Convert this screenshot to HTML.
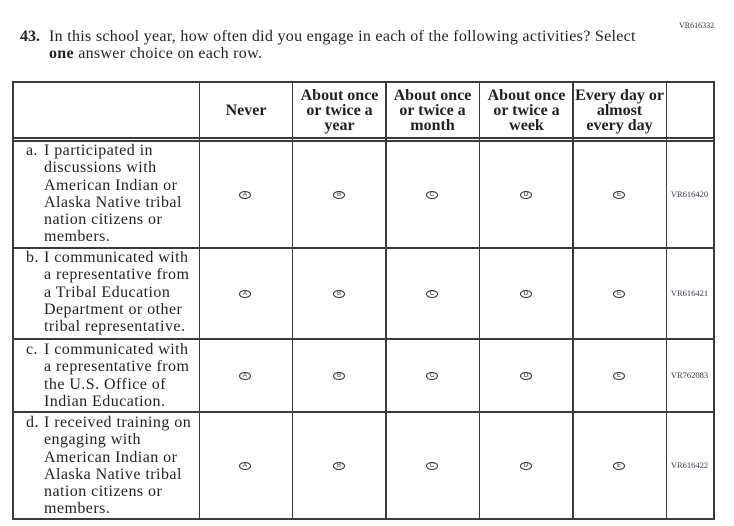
<!DOCTYPE html>
<html>
<head>
<meta charset="utf-8">
<style>
html,body{margin:0;padding:0;background:#fff;}
body{width:734px;height:526px;position:relative;overflow:hidden;font-family:"Liberation Serif",serif;color:#231f20;}
.a{position:absolute;white-space:nowrap;}
.t{font-size:16px;line-height:17px;letter-spacing:0.3px;}
.hl{position:absolute;background:#3b3b3b;}
.h{position:absolute;font-weight:bold;font-size:16px;line-height:15px;text-align:center;}
.row{position:absolute;font-size:16px;line-height:17.3px;white-space:nowrap;letter-spacing:0.45px;}
.vr{position:absolute;font-size:8.5px;color:#3a3a4a;text-align:center;width:47px;}
.b{position:absolute;width:10px;height:6px;border:1px solid #333;border-radius:50%;font-size:6px;line-height:6px;text-align:center;font-family:"Liberation Sans",sans-serif;color:#222;}
</style>
</head>
<body>
<div class="a" style="left:679px;top:21px;font-size:8px;color:#333;">VR616332</div>
<div class="a t" style="left:20px;top:28px;font-weight:bold;letter-spacing:0;">43.</div>
<div class="a t" style="left:49px;top:28px;">In this school year, how often did you engage in each of the following activities? Select</div>
<div class="a t" style="left:49px;top:45px;"><b>one</b> answer choice on each row.</div>

<!-- horizontal lines -->
<div class="hl" style="left:12px;top:81px;width:702px;height:2px;"></div>
<div class="hl" style="left:12px;top:137px;width:702px;height:1.5px;"></div>
<div class="hl" style="left:12px;top:140px;width:702px;height:1.5px;"></div>
<div class="hl" style="left:12px;top:247px;width:702px;height:1.5px;"></div>
<div class="hl" style="left:12px;top:338px;width:702px;height:1.5px;"></div>
<div class="hl" style="left:12px;top:411px;width:702px;height:1.5px;"></div>
<div class="hl" style="left:12px;top:518px;width:702px;height:2px;"></div>
<!-- vertical lines -->
<div class="hl" style="left:11.5px;top:81px;width:2px;height:439px;"></div>
<div class="hl" style="left:198.5px;top:81px;width:1.5px;height:439px;"></div>
<div class="hl" style="left:291.5px;top:81px;width:1.5px;height:439px;"></div>
<div class="hl" style="left:385px;top:81px;width:1.5px;height:439px;"></div>
<div class="hl" style="left:478.5px;top:81px;width:1.5px;height:439px;"></div>
<div class="hl" style="left:572px;top:81px;width:1.5px;height:439px;"></div>
<div class="hl" style="left:665.5px;top:81px;width:1.5px;height:439px;"></div>
<div class="hl" style="left:712.5px;top:81px;width:2px;height:439px;"></div>

<!-- headers -->
<div class="h" style="left:200px;width:92px;top:103px;">Never</div>
<div class="h" style="left:293px;width:93px;top:88px;">About once<br>or twice a<br>year</div>
<div class="h" style="left:386px;width:93px;top:88px;">About once<br>or twice a<br>month</div>
<div class="h" style="left:480px;width:93px;top:88px;">About once<br>or twice a<br>week</div>
<div class="h" style="left:573px;width:93px;top:88px;">Every day or<br>almost<br>every day</div>

<!-- rows -->
<div class="row" style="left:26px;top:142px;">a.</div>
<div class="row" style="left:44px;top:142px;">I participated in<br>discussions with<br>American Indian or<br>Alaska Native tribal<br>nation citizens or<br>members.</div>
<div class="row" style="left:26px;top:249px;">b.</div>
<div class="row" style="left:44px;top:249px;">I communicated with<br>a representative from<br>a Tribal Education<br>Department or other<br>tribal representative.</div>
<div class="row" style="left:26px;top:341px;">c.</div>
<div class="row" style="left:44px;top:341px;">I communicated with<br>a representative from<br>the U.S. Office of<br>Indian Education.</div>
<div class="row" style="left:26px;top:414px;">d.</div>
<div class="row" style="left:44px;top:414px;">I received training on<br>engaging with<br>American Indian or<br>Alaska Native tribal<br>nation citizens or<br>members.</div>

<!-- bubbles row a -->
<div class="b" style="left:239px;top:191px;">A</div>
<div class="b" style="left:333px;top:191px;">B</div>
<div class="b" style="left:426px;top:191px;">C</div>
<div class="b" style="left:520px;top:191px;">D</div>
<div class="b" style="left:613px;top:191px;">E</div>
<div class="vr" style="left:666px;top:189px;">VR616420</div>
<!-- row b -->
<div class="b" style="left:239px;top:290px;">A</div>
<div class="b" style="left:333px;top:290px;">B</div>
<div class="b" style="left:426px;top:290px;">C</div>
<div class="b" style="left:520px;top:290px;">D</div>
<div class="b" style="left:613px;top:290px;">E</div>
<div class="vr" style="left:666px;top:288px;">VR616421</div>
<!-- row c -->
<div class="b" style="left:239px;top:372px;">A</div>
<div class="b" style="left:333px;top:372px;">B</div>
<div class="b" style="left:426px;top:372px;">C</div>
<div class="b" style="left:520px;top:372px;">D</div>
<div class="b" style="left:613px;top:372px;">E</div>
<div class="vr" style="left:666px;top:370px;">VR762083</div>
<!-- row d -->
<div class="b" style="left:239px;top:462px;">A</div>
<div class="b" style="left:333px;top:462px;">B</div>
<div class="b" style="left:426px;top:462px;">C</div>
<div class="b" style="left:520px;top:462px;">D</div>
<div class="b" style="left:613px;top:462px;">E</div>
<div class="vr" style="left:666px;top:460px;">VR616422</div>
</body>
</html>
